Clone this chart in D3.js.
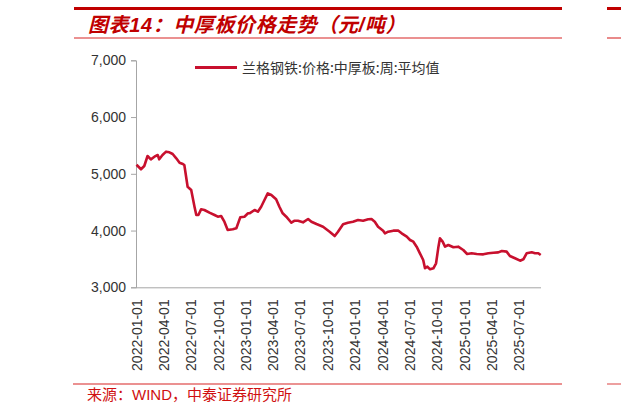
<!DOCTYPE html>
<html>
<head>
<meta charset="utf-8">
<script src="https://cdn.jsdelivr.net/npm/d3@7"></script>
<style>
  html, body { margin: 0; padding: 0; background: #fff; }
  svg { display: block; }
</style>
</head>
<body>
<svg id="chart" width="621" height="415"></svg>
<script>
const titleText = "图表14：中厚板价格走势（元/吨）";
const sourceText = "来源：WIND，中泰证券研究所";
const seriesName = "兰格钢铁:价格:中厚板:周:平均值";

const dates = [
  "2021-12-31","2022-01-15","2022-01-26","2022-02-06","2022-02-17","2022-03-01","2022-03-12","2022-03-17",
  "2022-03-28","2022-04-09","2022-04-20","2022-05-01","2022-05-13","2022-05-24","2022-06-04","2022-06-09",
  "2022-06-20","2022-07-02","2022-07-13","2022-07-19","2022-07-26","2022-08-04","2022-08-15","2022-09-01",
  "2022-09-18","2022-09-29","2022-10-10","2022-10-21","2022-11-01","2022-11-18","2022-11-30","2022-12-13",
  "2022-12-27","2023-01-08","2023-01-13","2023-01-30","2023-02-10","2023-02-21","2023-03-04","2023-03-15",
  "2023-03-27","2023-04-12","2023-04-23","2023-05-04","2023-05-16","2023-06-02","2023-06-13","2023-06-24",
  "2023-07-11","2023-07-28","2023-08-08","2023-08-25","2023-09-16","2023-10-08","2023-10-25","2023-11-05",
  "2023-11-22","2023-12-08","2023-12-25","2024-01-11","2024-01-28","2024-02-14","2024-02-25","2024-03-07",
  "2024-03-18","2024-04-04","2024-04-10","2024-04-21","2024-05-08","2024-05-25","2024-06-05","2024-06-22",
  "2024-07-03","2024-07-14","2024-07-25","2024-08-05","2024-08-16","2024-08-22","2024-08-30","2024-09-08",
  "2024-09-19","2024-09-28","2024-10-06","2024-10-11","2024-10-20","2024-10-28","2024-11-08","2024-11-25",
  "2024-12-11","2024-12-28","2025-01-10","2025-01-25","2025-02-11","2025-03-05","2025-03-22","2025-04-08",
  "2025-04-24","2025-05-06","2025-05-22","2025-06-02","2025-06-19","2025-07-06","2025-07-17","2025-07-28",
  "2025-08-14","2025-08-25","2025-09-05","2025-09-13"
];

const prices = [
  5160,5080,5137,5314,5255,5301,5331,5255,
  5331,5390,5379,5349,5273,5196,5173,5155,
  4773,4714,4420,4274,4274,4374,4362,4315,
  4274,4244,4256,4156,4010,4022,4040,4233,
  4244,4304,4304,4362,4332,4420,4538,4656,
  4626,4551,4420,4304,4244,4138,4174,4174,
  4145,4204,4156,4115,4068,3980,3904,3980,
  4110,4138,4156,4186,4174,4198,4204,4156,
  4068,3998,3951,3980,3998,3998,3951,3892,
  3833,3804,3716,3599,3481,3335,3363,3317,
  3335,3423,3716,3863,3804,3716,3745,3705,
  3716,3657,3587,3599,3587,3581,3599,3610,
  3616,3640,3628,3552,3511,3469,3493,3599,
  3616,3599,3599,3569
];

const yTicks = [3000, 4000, 5000, 6000, 7000];
const xTickLabels = [
  "2022-01-01","2022-04-01","2022-07-01","2022-10-01","2023-01-01","2023-04-01","2023-07-01",
  "2023-10-01","2024-01-01","2024-04-01","2024-07-01","2024-10-01","2025-01-01","2025-04-01","2025-07-01"
];

const parse = d3.utcParse("%Y-%m-%d");
const data = dates.map((d, i) => ({ date: parse(d), value: prices[i] }));

const svg = d3.select("#chart");
const latin = "'Liberation Sans', Arial, sans-serif";
const cjk = "'Liberation Sans', 'Noto Sans CJK SC', sans-serif";
const red = "#c00000";
const lightRed = "#e46c6c";

// header / footer rules
[[74, 562], [607, 621]].forEach(([a, b]) => {
  svg.append("line").attr("x1", a).attr("x2", b).attr("y1", 8.5).attr("y2", 8.5)
    .attr("stroke", red).attr("stroke-width", 3);
  svg.append("line").attr("x1", a).attr("x2", b).attr("y1", 38).attr("y2", 38)
    .attr("stroke", lightRed).attr("stroke-width", 1.6);
  svg.append("line").attr("x1", a === 74 ? 73 : a).attr("x2", b).attr("y1", 384).attr("y2", 384)
    .attr("stroke", lightRed).attr("stroke-width", 1.3);
});

svg.append("text")
  .attr("x", 88).attr("y", 32)
  .attr("font-family", cjk)
  .attr("font-size", 20)
  .attr("font-weight", "bold")
  .attr("font-style", "italic")
  .attr("letter-spacing", 0.6)
  .attr("fill", red)
  .text(titleText);

svg.append("text")
  .attr("x", 87).attr("y", 400)
  .attr("font-family", cjk)
  .attr("font-size", 15)
  .attr("fill", "#d01010")
  .text(sourceText);

// scales
const x = d3.scaleUtc()
  .domain(d3.extent(data, d => d.date))
  .range([136.5, 540.7]);
const y = d3.scaleLinear()
  .domain([3000, 7000])
  .range([287.3, 60.3]);

const axisColor = "#a6a6a6";
const textColor = "#333333";

// y axis
const yAxis = svg.append("g")
  .attr("transform", "translate(136,0)")
  .call(d3.axisLeft(y).tickValues(yTicks).tickFormat(d3.format(",")).tickSize(5).tickPadding(5));
yAxis.select(".domain").attr("stroke", axisColor);
yAxis.selectAll(".tick line").attr("stroke", axisColor);
yAxis.selectAll(".tick text")
  .attr("font-family", latin).attr("font-size", 14).attr("fill", textColor);

// x axis
const xAxis = svg.append("g")
  .attr("transform", "translate(0,287.3)")
  .call(d3.axisBottom(x)
    .tickValues(xTickLabels.map(parse))
    .tickFormat(d3.utcFormat("%Y-%m-%d"))
    .tickSize(0).tickPadding(0));
xAxis.select(".domain").attr("stroke", axisColor).attr("d", "M136,0.5H541");
xAxis.selectAll(".tick text")
  .attr("font-family", latin).attr("font-size", 14).attr("fill", textColor)
  .attr("transform", "rotate(-90)")
  .attr("text-anchor", "end")
  .attr("x", -12).attr("y", 0).attr("dy", "0.35em");

// line
const line = d3.line().x(d => x(d.date)).y(d => y(d.value));
svg.append("path")
  .datum(data)
  .attr("fill", "none")
  .attr("stroke", "#c8102e")
  .attr("stroke-width", 2.6)
  .attr("stroke-linejoin", "round")
  .attr("d", line);

// legend
svg.append("line").attr("x1", 195).attr("x2", 237).attr("y1", 67.5).attr("y2", 67.5)
  .attr("stroke", "#c8102e").attr("stroke-width", 3);
svg.append("text")
  .attr("x", 242).attr("y", 72.5)
  .attr("font-family", "'Noto Sans CJK SC', sans-serif")
  .attr("font-size", 14)
  .attr("fill", textColor)
  .text(seriesName);
</script>
</body>
</html>
